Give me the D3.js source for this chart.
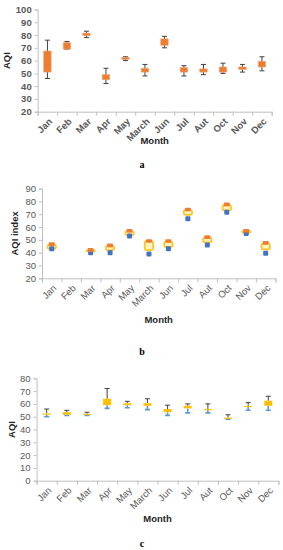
<!DOCTYPE html>
<html>
<head>
<meta charset="utf-8">
<script src="https://cdn.jsdelivr.net/npm/d3@7"></script>
<style>
  body { margin: 0; background: #fff; }
  svg { display: block; font-family: "Liberation Sans", Arial, sans-serif; }
</style>
</head>
<body>
<svg width="283" height="550"></svg>
<script>
// months (same order as the figure)
const months = ["Jan", "Feb", "Mar", "Apr", "May", "March", "Jun", "Jul", "Aut", "Oct", "Nov", "Dec"];

// panel a - box plot
const aMin = [46, 69, 78, 42, 60, 48, 70, 48, 49, 50, 51, 52];
const aQ1  = [51, 69, 79.5, 45, 61, 51, 72, 51, 51, 51, 53, 55];
const aQ3  = [67.5, 74, 81.5, 49, 62.5, 54, 77, 54.5, 53.5, 55, 55, 59.5];
const aMax = [76, 75, 83, 54, 63, 57, 79, 56, 57, 58, 57, 63];
const aTicks = [20, 30, 40, 50, 60, 70, 80, 90, 100];

// panel b - high / box / low
const bHigh  = [46.5, null, 42, 45.5, 57, 49, 49, 73.5, 52, 77.5, 57, 47.5];
const bTop   = [46, null, 42, 45, 56.5, 49, 48.5, 73, 51.5, 77, 57, 47];
const bBot   = [43, null, 41, 42, 53.5, 42, 44.5, 69.5, 48, 73, 55.5, 42.5];
const bLow   = [43, null, 40, 40, 53, 39, 43, 66.5, 46, 71.5, 55, 39.5];
const bTicks = [20, 30, 40, 50, 60, 70, 80, 90];

// panel c - two-coloured error bars around a box
const cMin = [50, 51, 51, 56.5, 57, 55.5, 51, 53, 53, 48, 55, 55];
const cQ1  = [51.5, 51.5, 52, 59, 59, 58.5, 53.5, 56.5, 55.5, 49, 57.5, 58.5];
const cQ3  = [52.5, 53.5, 52.3, 64, 60.5, 60.5, 56, 58.5, 56, 49.3, 58.5, 62.5];
const cMax = [56, 55, 53.5, 72, 62, 64, 59, 60, 60, 51.5, 61, 66];
const cTicks = [0, 10, 20, 30, 40, 50, 60, 70, 80];

const svg = d3.select("svg");
const axisGrey = "#bfbfbf";
const textGrey = "#595959";

function panel(opt) {
    const x = d3.scaleBand().domain(months).range([opt.x0, opt.x1]).padding(0);
    const xEdges = d3.scaleLinear().domain([0, 12]).range([opt.x0, opt.x1]);
    const y = d3.scaleLinear().domain(opt.yDomain).range([opt.yBottom, opt.yTop]);

    // y axis
    const yAxisG = svg.append("g")
        .attr("transform", `translate(${opt.x0},0)`)
        .call(d3.axisLeft(y).tickValues(opt.ticks).tickSize(3).tickPadding(3));
    yAxisG.selectAll("line, path").attr("stroke", axisGrey);
    yAxisG.selectAll("text")
        .attr("fill", textGrey)
        .style("font-size", opt.tickSize + "px")
        .style("font-weight", opt.tickWeight);

    // x axis line + boundary ticks
    const xAxisG = svg.append("g")
        .attr("transform", `translate(0,${opt.yBottom})`)
        .call(d3.axisBottom(xEdges).ticks(12).tickFormat("").tickSize(4).tickSizeOuter(4));
    xAxisG.selectAll("line, path").attr("stroke", axisGrey);

    // rotated month labels
    svg.append("g").selectAll("text")
        .data(months)
        .join("text")
        .attr("transform", d => `translate(${x(d) + x.bandwidth() / 2 + 3},${opt.yBottom + 8}) rotate(-45)`)
        .attr("text-anchor", "end")
        .attr("dy", "0.35em")
        .attr("fill", textGrey)
        .style("font-size", opt.tickSize + "px")
        .style("font-weight", opt.tickWeight)
        .text(d => d);

    // titles
    svg.append("text")
        .attr("x", (opt.x0 + opt.x1) / 2)
        .attr("y", opt.monthY)
        .attr("text-anchor", "middle")
        .attr("dy", "0.35em")
        .attr("fill", "#262626")
        .style("font-size", "9.5px")
        .style("font-weight", "bold")
        .text("Month");

    svg.append("text")
        .attr("transform", `translate(${opt.yLabelX},${(opt.yTop + opt.yBottom) / 2}) rotate(-90)`)
        .attr("text-anchor", "middle")
        .attr("dy", "0.35em")
        .attr("fill", "#262626")
        .style("font-size", "9.5px")
        .style("font-weight", "bold")
        .text(opt.yLabel);

    svg.append("text")
        .attr("x", 142)
        .attr("y", opt.letterY)
        .attr("text-anchor", "middle")
        .attr("dy", "0.35em")
        .attr("fill", "#000")
        .style("font-family", "'Liberation Serif', 'Times New Roman', serif")
        .style("font-size", "10px")
        .style("font-weight", "bold")
        .text(opt.letter);

    return { x: x, y: y, g: svg.append("g") };
}

// ---------- panel a ----------
const pa = panel({
    x0: 37.7, x1: 271.7, yTop: 9.5, yBottom: 111.7, yDomain: [20, 100],
    ticks: aTicks, tickSize: 9.5, tickWeight: "bold",
    monthY: 141, yLabel: "AQI", yLabelX: 7, letter: "a", letterY: 164
});
const ca = i => pa.x(months[i]) + pa.x.bandwidth() / 2;
pa.g.selectAll(".whisk").data(months).join("line")
    .attr("x1", (d, i) => ca(i)).attr("x2", (d, i) => ca(i))
    .attr("y1", (d, i) => pa.y(aMin[i])).attr("y2", (d, i) => pa.y(aMax[i]))
    .attr("stroke", "#404040").attr("stroke-width", 1);
[aMin, aMax].forEach(arr => {
    pa.g.selectAll(null).data(months).join("line")
        .attr("x1", (d, i) => ca(i) - 2.5).attr("x2", (d, i) => ca(i) + 2.5)
        .attr("y1", (d, i) => pa.y(arr[i])).attr("y2", (d, i) => pa.y(arr[i]))
        .attr("stroke", "#404040").attr("stroke-width", 1);
});
pa.g.selectAll("rect").data(months).join("rect")
    .attr("x", (d, i) => ca(i) - 3.7)
    .attr("width", 7.4)
    .attr("y", (d, i) => pa.y(aQ3[i]))
    .attr("height", (d, i) => Math.max(1.5, pa.y(aQ1[i]) - pa.y(aQ3[i])))
    .attr("fill", "#ed7d31")
    .attr("stroke", "#f4a26d")
    .attr("stroke-width", 0.6);

// ---------- panel b ----------
const pb = panel({
    x0: 42, x1: 275.4, yTop: 188.6, yBottom: 278.3, yDomain: [20, 90],
    ticks: bTicks, tickSize: 9.5, tickWeight: "normal",
    monthY: 319.5, yLabel: "AQI index", yLabelX: 15, letter: "b", letterY: 351
});
const cb = i => pb.x(months[i]) + pb.x.bandwidth() / 2;
const bIdx = d3.range(months.length).filter(i => bHigh[i] != null);
pb.g.selectAll(".box").data(bIdx).join("rect")
    .attr("x", i => cb(i) - 4.2)
    .attr("width", 8.4)
    .attr("y", i => pb.y(bTop[i]))
    .attr("height", i => pb.y(bBot[i]) - pb.y(bTop[i]))
    .attr("rx", 1.5)
    .attr("fill", "#fff3c4")
    .attr("stroke", "#ffc526")
    .attr("stroke-width", 1.8);
pb.g.selectAll(".lo").data(bIdx).join("rect")
    .attr("x", i => cb(i) - 2.5)
    .attr("width", 5)
    .attr("y", i => pb.y(bLow[i]) - 2.5)
    .attr("height", 5)
    .attr("rx", 1)
    .attr("fill", "#4472c4");
pb.g.selectAll(".hi").data(bIdx).join("rect")
    .attr("x", i => cb(i) - 3)
    .attr("width", 6)
    .attr("y", i => pb.y(bHigh[i]) - 2)
    .attr("height", 3.6)
    .attr("rx", 1)
    .attr("fill", "#ed7d31");

// ---------- panel c ----------
const pc = panel({
    x0: 36.6, x1: 278.4, yTop: 378.3, yBottom: 480.7, yDomain: [0, 80],
    ticks: cTicks, tickSize: 9.5, tickWeight: "normal",
    monthY: 518.5, yLabel: "AQI", yLabelX: 11.5, letter: "c", letterY: 543
});
const cc = i => pc.x(months[i]) + pc.x.bandwidth() / 2;
// upper (black) error bar
pc.g.selectAll(".up").data(months).join("path")
    .attr("d", (d, i) => `M${ca2(i)},${pc.y(cQ3[i])}V${pc.y(cMax[i])}M${ca2(i) - 2.5},${pc.y(cMax[i])}H${ca2(i) + 2.5}`)
    .attr("stroke", "#404040").attr("stroke-width", 1).attr("fill", "none");
// lower (blue) error bar
pc.g.selectAll(".down").data(months).join("path")
    .attr("d", (d, i) => `M${ca2(i)},${pc.y(cQ1[i])}V${pc.y(cMin[i])}M${ca2(i) - 2.5},${pc.y(cMin[i])}H${ca2(i) + 2.5}`)
    .attr("stroke", "#5b9bd5").attr("stroke-width", 1.6).attr("fill", "none");
pc.g.selectAll("rect").data(months).join("rect")
    .attr("x", (d, i) => ca2(i) - 4)
    .attr("width", 8)
    .attr("y", (d, i) => pc.y(cQ3[i]))
    .attr("height", (d, i) => Math.max(1.2, pc.y(cQ1[i]) - pc.y(cQ3[i])))
    .attr("fill", "#ffc000");
function ca2(i) { return cc(i); }
</script>
</body>
</html>
